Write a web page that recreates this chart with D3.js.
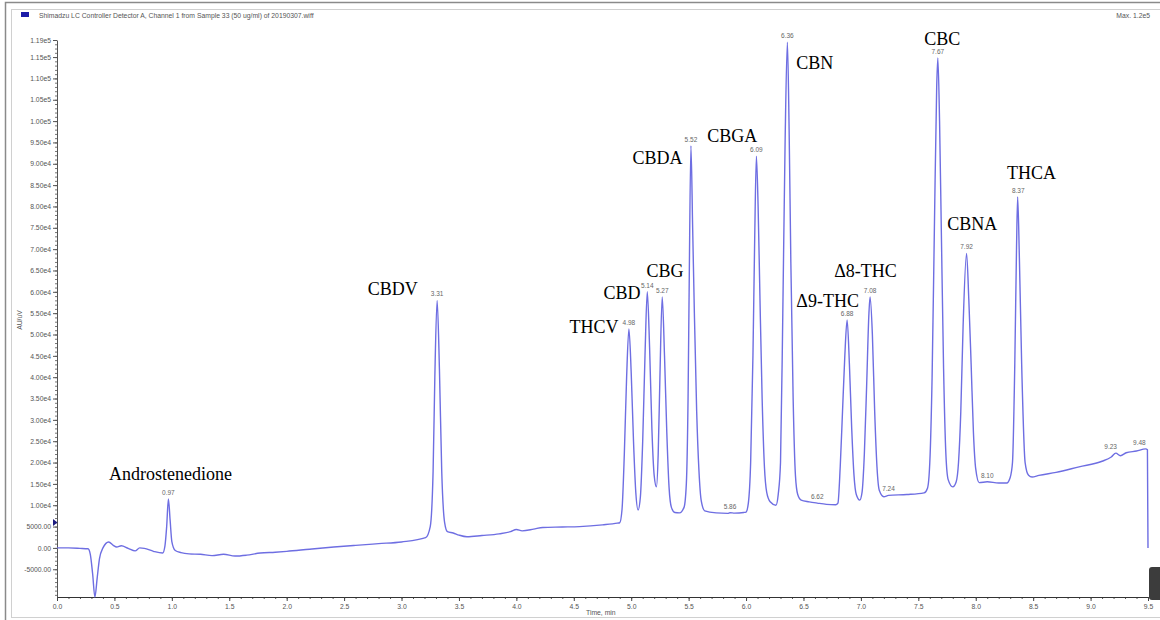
<!DOCTYPE html>
<html>
<head>
<meta charset="utf-8">
<script src="https://cdn.jsdelivr.net/npm/d3@7"></script>
<style>
  body { margin: 0; background: #fff; }
  svg { display: block; }
</style>
</head>
<body>
<div id="chart"></div>
<script>
// chromatogram trace, [time (min), signal (AU/uV)]
const trace = [
  [0.00, 0], [0.10, 0], [0.20, -100], [0.27, -200], [0.29, -1500], [0.31, -6000], [0.33, -11500],
  [0.35, -7000], [0.37, -2500], [0.40, 0], [0.45, 1400], [0.49, 600], [0.52, 200], [0.56, 500],
  [0.62, -100], [0.68, -700], [0.72, 0], [0.76, -100], [0.84, -800], [0.92, -1200],
  [0.94, 500], [0.955, 5000], [0.97, 11500], [0.985, 6500], [1.00, 1500], [1.03, -600],
  [1.08, -1100], [1.15, -1400], [1.25, -1500], [1.35, -1800], [1.45, -1500], [1.55, -1900],
  [1.65, -1700], [1.77, -1200], [1.90, -1000], [2.00, -800], [2.20, -300], [2.41, 200],
  [2.60, 600], [2.80, 1000], [3.00, 1400], [3.21, 2400], [3.25, 5000], [3.275, 18000],
  [3.29, 40000], [3.31, 58000], [3.33, 42000], [3.35, 18000], [3.375, 6000], [3.40, 3800],
  [3.45, 3500], [3.50, 3000], [3.57, 2600], [3.70, 2900], [3.85, 3300], [3.95, 3800],
  [4.00, 4300], [4.05, 4000], [4.15, 4400], [4.23, 4800], [4.40, 4900], [4.55, 5000],
  [4.75, 5400], [4.88, 5800],
  [4.90, 5900], [4.92, 9000], [4.94, 22000], [4.96, 40000], [4.98, 51300], [5.00, 41000],
  [5.02, 25000], [5.04, 13000], [5.06, 8900],
  [5.08, 12000], [5.10, 25000], [5.12, 45000], [5.14, 60000], [5.16, 47000], [5.18, 28000],
  [5.20, 17000], [5.22, 14300],
  [5.235, 22000], [5.25, 40000], [5.27, 58800], [5.29, 45000], [5.31, 27000], [5.33, 14000],
  [5.35, 9500], [5.38, 8300], [5.42, 8200],
  [5.46, 9500], [5.48, 15000], [5.495, 35000], [5.505, 62000], [5.52, 94200], [5.535, 75000],
  [5.55, 55000], [5.57, 32000], [5.59, 18000], [5.61, 11000], [5.64, 8700], [5.74, 8200],
  [5.84, 8100], [5.86, 8250], [5.90, 8150], [5.98, 8300],
  [6.00, 8400], [6.02, 10500], [6.04, 20000], [6.06, 45000], [6.075, 72000], [6.09, 91800],
  [6.105, 80000], [6.12, 60000], [6.14, 35000], [6.16, 19000], [6.18, 13000], [6.21, 10800],
  [6.26, 10000],
  [6.28, 12500], [6.30, 20000], [6.32, 55000], [6.34, 95000], [6.36, 118500], [6.375, 98000],
  [6.39, 67000], [6.41, 35000], [6.43, 17000], [6.45, 12500], [6.48, 11200], [6.55, 10800],
  [6.62, 10500], [6.70, 10200], [6.78, 10100],
  [6.80, 10500], [6.82, 19000], [6.84, 32000], [6.86, 45000], [6.88, 53400], [6.90, 43000],
  [6.92, 28000], [6.94, 17000], [6.96, 12500], [6.99, 11200],
  [7.01, 13000], [7.03, 22000], [7.05, 38000], [7.07, 55000], [7.08, 58800], [7.10, 50000],
  [7.12, 32000], [7.14, 19000], [7.16, 13500], [7.20, 12000], [7.24, 12300], [7.40, 12500],
  [7.55, 12900],
  [7.58, 14000], [7.60, 20000], [7.62, 40000], [7.64, 75000], [7.66, 108000], [7.67, 114800],
  [7.685, 100000], [7.70, 75000], [7.72, 42000], [7.74, 22000], [7.76, 16000], [7.80, 14300],
  [7.83, 15500], [7.85, 20000], [7.87, 32000], [7.89, 52000], [7.92, 69000], [7.94, 58000],
  [7.96, 43000], [7.98, 27000], [8.00, 18500], [8.03, 15300], [8.10, 15500], [8.20, 15200],
  [8.27, 15200],
  [8.30, 16500], [8.32, 20000], [8.34, 43000], [8.355, 70000], [8.365, 82200], [8.38, 68000],
  [8.40, 43000], [8.43, 20000], [8.46, 17000], [8.49, 16600], [8.55, 17000], [8.70, 17700],
  [8.90, 19000], [9.10, 20300], [9.18, 21300], [9.22, 22200], [9.26, 21600], [9.31, 22300],
  [9.40, 22700], [9.48, 23200], [9.495, 23000], [9.50, 0]
];

// retention times printed by the software
const peakTimes = [0.97, 3.31, 4.98, 5.14, 5.27, 5.52, 5.86, 6.09, 6.36, 6.62, 6.88, 7.08,
                   7.24, 7.67, 7.92, 8.10, 8.37, 9.23, 9.48];

// compound names, anchored at [time, signal] of the text start
const compoundNames = ["Androstenedione", "CBDV", "THCV", "CBD", "CBG", "CBDA", "CBGA",
                       "CBN", "CBC", "Δ9-THC", "Δ8-THC", "CBNA", "THCA"];
const compoundAt = [[0.452, 15900], [2.706, 59250], [4.463, 50350], [4.759, 58300],
                    [5.133, 63500], [5.011, 89900], [5.663, 95100], [6.438, 112200],
                    [7.551, 117800], [6.438, 56400], [6.768, 63500], [7.751, 74500],
                    [8.273, 86400]];

const xTicks = [0, 0.5, 1, 1.5, 2, 2.5, 3, 3.5, 4, 4.5, 5, 5.5, 6, 6.5, 7, 7.5, 8, 8.5, 9, 9.5];
const yTicks = [-5000, 0, 5000, 10000, 15000, 20000, 25000, 30000, 35000, 40000, 45000,
                50000, 55000, 60000, 65000, 70000, 75000, 80000, 85000, 90000, 95000,
                100000, 105000, 110000, 115000, 119000];

const title = "Shimadzu LC Controller Detector A, Channel 1 from Sample 33 (50 ug/ml) of 20190307.wiff";

const W = 1160, H = 620;
const svg = d3.select("#chart").append("svg").attr("width", W).attr("height", H);

// window frame
svg.append("rect").attr("x", 5.5).attr("y", 2.5).attr("width", W).attr("height", H)
  .attr("fill", "none").attr("stroke", "#8a8a8a").attr("stroke-width", 1.5);
svg.append("rect").attr("x", 11.5).attr("y", 9.5).attr("width", W).attr("height", 608)
  .attr("fill", "none").attr("stroke", "#d0d0d0");

const x = d3.scaleLinear([0, 9.5], [57, 1148]);
const y = d3.scaleLinear([-11500, 119000], [597, 40]);

// header
svg.append("rect").attr("x", 21).attr("y", 12).attr("width", 8).attr("height", 5).attr("fill", "#1c1ca8");
svg.append("text").attr("x", 39).attr("y", 17.5).text(title)
  .style("font", "6.8px 'Liberation Sans', Arial, sans-serif").attr("fill", "#555");
svg.append("text").attr("x", 1150).attr("y", 17.5).attr("text-anchor", "end").text("Max. 1.2e5")
  .style("font", "6.8px 'Liberation Sans', Arial, sans-serif").attr("fill", "#555");

const tickFont = "6.8px 'Liberation Sans', Arial, sans-serif";
const fmtY = v => v === 0 ? "0.00" : Math.abs(v) < 10000 ? v.toFixed(2) : v.toExponential(2).replace("e+", "e");

// y axis: minor ticks then major
svg.append("g").attr("transform", "translate(57,0)")
  .call(d3.axisLeft(y).tickValues(d3.range(-11000, 119000, 1000)).tickSize(2).tickFormat(""))
  .call(g => g.select(".domain").remove())
  .call(g => g.selectAll("line").attr("stroke", "#777"));
svg.append("g").attr("transform", "translate(57,0)")
  .call(d3.axisLeft(y).tickValues(yTicks).tickSize(4).tickSizeOuter(0).tickPadding(2).tickFormat(fmtY))
  .call(g => g.select(".domain").attr("stroke", "#555"))
  .call(g => g.selectAll("line").attr("stroke", "#555"))
  .call(g => g.selectAll("text").style("font", tickFont).attr("fill", "#555"));

// x axis
svg.append("g").attr("transform", "translate(0,597)")
  .call(d3.axisBottom(x).tickValues(d3.range(0, 9.51, 0.1)).tickSize(2).tickFormat(""))
  .call(g => g.select(".domain").remove())
  .call(g => g.selectAll("line").attr("stroke", "#555"));
svg.append("g").attr("transform", "translate(0,597)")
  .call(d3.axisBottom(x).tickValues(xTicks).tickSize(4).tickSizeOuter(0).tickPadding(3).tickFormat(d3.format(".1f")))
  .call(g => g.select(".domain").attr("stroke", "#333"))
  .call(g => g.selectAll("line").attr("stroke", "#444"))
  .call(g => g.selectAll("text").style("font", tickFont).attr("fill", "#555"));

svg.append("text").attr("x", 586).attr("y", 615).text("Time, min")
  .style("font", tickFont).attr("fill", "#555");
svg.append("text").attr("transform", "translate(22,320) rotate(-90)").attr("text-anchor", "middle")
  .text("AU/uV").style("font", tickFont).attr("fill", "#555");

// marker on y axis
svg.append("path").attr("d", "M53,519 L57.5,522.5 L53,526 Z").attr("fill", "#1c1c80");

// trace
svg.append("path").datum(trace)
  .attr("fill", "none").attr("stroke", "#6e6ee2").attr("stroke-width", 1.4)
  .attr("stroke-linejoin", "round")
  .attr("d", d3.line().x(d => x(d[0])).y(d => y(d[1])).curve(d3.curveMonotoneX));

// retention time labels
const nearest = t => trace.reduce((a, b) => Math.abs(b[0] - t) < Math.abs(a[0] - t) ? b : a);
svg.append("g").selectAll("text").data(peakTimes).join("text")
  .attr("x", t => x(t))
  .attr("y", t => y(nearest(t)[1]) - 4)
  .attr("text-anchor", t => t > 9.2 ? "end" : "middle")
  .style("font", "6.5px 'Liberation Sans', Arial, sans-serif").attr("fill", "#666")
  .text(t => t.toFixed(2));

// compound names
svg.append("g").selectAll("text").data(compoundNames).join("text")
  .attr("x", (d, i) => x(compoundAt[i][0]))
  .attr("y", (d, i) => y(compoundAt[i][1]))
  .style("font", "18px 'Liberation Serif', 'Times New Roman', serif").attr("fill", "#000")
  .text(d => d);

// scroll handle at bottom right
svg.append("rect").attr("x", 1149).attr("y", 567).attr("width", 16).attr("height", 33).attr("rx", 3)
  .attr("fill", "#3c3c3c");
</script>
</body>
</html>
